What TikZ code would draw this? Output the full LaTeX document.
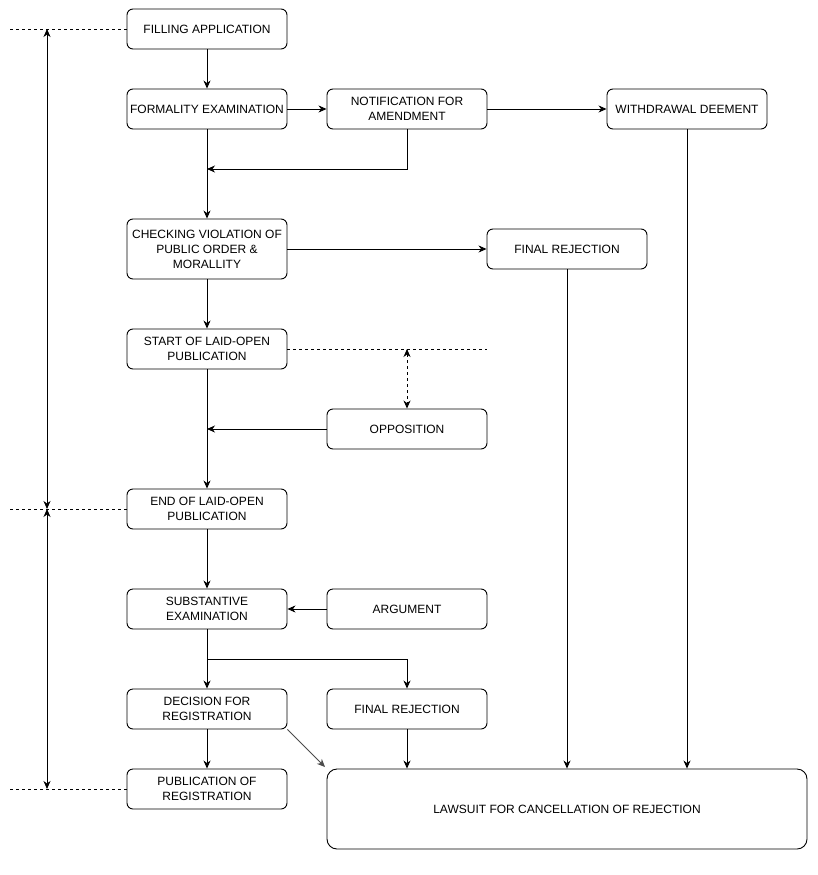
\documentclass[tikz,border=0pt]{standalone}
\usepackage{fontspec}
\setmainfont{Liberation Sans}
\usetikzlibrary{arrows.meta}
\begin{document}
\begin{tikzpicture}[x=1pt,y=-1pt,
  tip/.tip={Stealth[length=8pt,width=7pt,inset=2.5pt]},
  box/.style={draw,line width=0.9pt,rounded corners=6pt,minimum width=160pt,minimum height=40pt,align=center,inner sep=1pt,font=\fontsize{12}{15}\selectfont},
  conn/.style={line width=0.9pt,-tip},
  dconn/.style={line width=0.9pt,dash pattern=on 3pt off 3pt,tip-tip},
  tick/.style={line width=0.8pt,dash pattern=on 3pt off 3pt}]
\useasboundingbox (0,0) rectangle (817,875);
\node[box] (fill) at (207,29) {FILLING APPLICATION};
\node[box] (form) at (207,109) {FORMALITY EXAMINATION};
\node[box] (noti) at (407,109) {NOTIFICATION FOR\\AMENDMENT};
\node[box] (with) at (687,109) {WITHDRAWAL DEEMENT};
\node[box,minimum height=60pt] (check) at (207,249) {CHECKING VIOLATION OF\\PUBLIC ORDER \&\\MORALLITY};
\node[box] (rej1) at (567,249) {FINAL REJECTION};
\node[box] (start) at (207,349) {START OF LAID-OPEN\\PUBLICATION};
\node[box] (opp) at (407,429) {OPPOSITION};
\node[box] (endp) at (207,509) {END OF LAID-OPEN\\PUBLICATION};
\node[box] (subst) at (207,609) {SUBSTANTIVE\\EXAMINATION};
\node[box] (arg) at (407,609) {ARGUMENT};
\node[box] (dec) at (207,709) {DECISION FOR\\REGISTRATION};
\node[box] (rej2) at (407,709) {FINAL REJECTION};
\node[box] (pub) at (207,789) {PUBLICATION OF\\REGISTRATION};
\node[box,minimum width=480pt,minimum height=80pt,rounded corners=10pt] (law) at (567,809) {LAWSUIT FOR CANCELLATION OF REJECTION};

\coordinate (j1) at (207,169);
\coordinate (j2) at (207,429);
\coordinate (d1) at (10,29);
\coordinate (d2) at (10,509);
\coordinate (d3) at (10,789);
\coordinate (d4) at (487,349);
\coordinate (a1) at (47,29);
\coordinate (a2) at (47,509);
\coordinate (a3) at (47,789);
\coordinate (o1) at (407,349);
\coordinate (lawc) at (325,767);

\draw[tick] (d1) -- (fill.west);
\draw[tick] (d2) -- (endp.west);
\draw[tick] (d3) -- (pub.west);
\draw[tick] (start.east) -- (d4);
\draw[line width=0.9pt,tip-tip] (a1) -- (a2);
\draw[line width=0.9pt,tip-tip] (a2) -- (a3);
\draw[dconn] (o1) -- (opp.north);

\draw[conn] (fill) -- (form);
\draw[conn] (form) -- (noti);
\draw[conn] (noti) -- (with);
\draw[conn] (noti.south) |- (j1);
\draw[conn] (form) -- (check);
\draw[conn] (check.east) -- (rej1.west);
\draw[conn] (check) -- (start);
\draw[conn] (start) -- (endp);
\draw[conn] (opp.west) -- (j2);
\draw[conn] (endp) -- (subst);
\draw[conn] (arg) -- (subst);
\draw[conn] (subst) -- (dec);
\draw[conn] (subst.south) -- ++(0,30) -| (rej2.north);
\draw[conn] (dec) -- (pub);
\draw[conn,draw=black!70,fill=black!70] (dec.south east) -- (lawc);
\draw[conn] (rej2) -- (rej2 |- law.north);
\draw[conn] (rej1) -- (rej1 |- law.north);
\draw[conn] (with) -- (with |- law.north);
\end{tikzpicture}
\end{document}
